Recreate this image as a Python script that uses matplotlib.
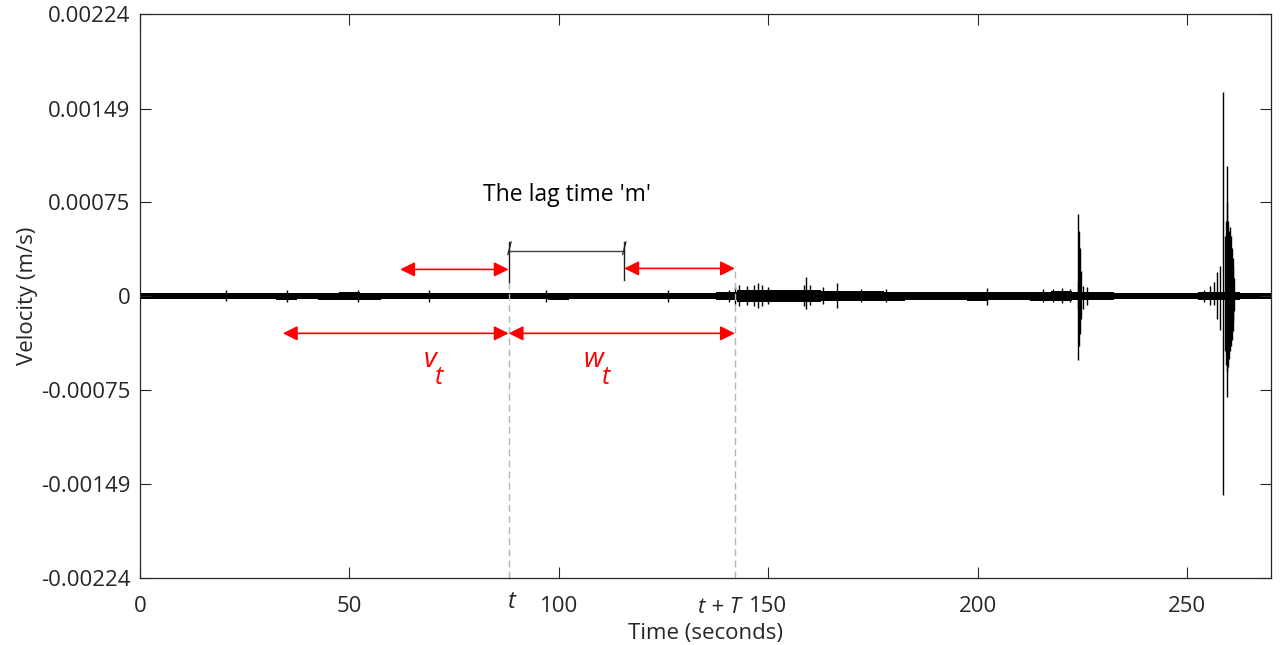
import numpy as np
import matplotlib.pyplot as plt
from matplotlib.transforms import blended_transform_factory

plt.rcParams['font.family'] = ['Open Sans', 'DejaVu Sans']

# background noise half-amplitude (1e-5 m/s), one value every 5 s
noise_t = np.arange(0, 275, 5)
noise_amp = [2.4, 2.4, 2.4, 2.5, 2.6, 2.6, 2.7, 2.8, 2.7, 2.8,
             2.9, 2.8, 2.6, 2.6, 2.6, 2.7, 2.6, 2.6, 2.6, 2.7,
             2.8, 2.7, 2.6, 2.7, 2.6, 2.6, 2.6, 2.7, 3.0, 5.0,
             4.6, 4.6, 4.6, 4.2, 4.0, 3.8, 3.6, 3.4, 3.2, 3.2,
             3.6, 3.0, 2.9, 3.6, 4.0, 3.4, 2.9, 2.7, 2.6, 2.6,
             2.6, 3.0, 3.4, 2.7, 2.7]

# individual spikes: time (s), peak up, peak down (1e-5 m/s)
spike_t = [20.5, 35, 52, 69, 97, 126, 140.5,
           142, 143, 145, 146.5, 147.5, 148.5, 150,
           158.5, 159, 160, 163, 166.3, 172, 178, 202.3,
           215.5, 218, 220, 222, 223.8, 224.0, 224.2, 224.4, 224.6, 225, 226,
           254, 255.5, 256.5, 257.2, 257.7, 258.6,
           258.9, 259.2, 259.4, 259.6, 259.8, 260.0, 260.2, 260.4, 260.6, 260.8, 261.0, 261.2]
spike_up = [4.5, 4.5, 5, 5, 4.5, 4.5, 5,
            7, 9, 8, 9, 10.5, 9, 7,
            9, 15.5, 9, 7, 10.5, 6, 6, 6.5,
            6, 5.5, 6.5, 6, 12, 65, 52, 38, 20, 8, 7,
            5, 8, 11, 19, 24, 162,
            48, 60, 75, 103, 60, 52, 55, 48, 38, 30, 22, 14]
spike_dn = [4, 4.5, 4.5, 5, 4.5, 4.5, 5,
            6, 8, 7, 8, 9.5, 8, 6,
            8, 10.5, 7, 6, 9.5, 5, 5, 7,
            5, 5, 5.5, 5, 10, 51, 40, 30, 18, 10, 7,
            5, 7, 7, 18, 27, 158,
            44, 55, 60, 80, 56, 50, 44, 40, 35, 28, 20, 12]

fig = plt.figure(figsize=(12.8, 6.45), dpi=100)
ax = fig.add_axes([0.1094, 0.1039, 0.8836, 0.8741])

scale = 1e-5
amp = np.array(noise_amp) * scale
ax.fill_between(noise_t, -amp, amp, step='mid', color='black', lw=0)
ax.vlines(spike_t, -np.array(spike_dn) * scale, np.array(spike_up) * scale,
          color='black', lw=1.0)

# dashed markers at t and t + T
t0, t1 = 88, 142
ax.plot([t0, t0], [-0.00224, 0.000114], ls=(0, (5, 3)), color='#b5b5b5', lw=1)
ax.plot([t1, t1], [-0.00224, 0.00024], ls=(0, (5, 3)), color='#b5b5b5', lw=1)

# red double arrows
red_arrow = dict(arrowstyle='<|-|>', color='red', lw=1.2, mutation_scale=22,
                 shrinkA=0, shrinkB=0)
ax.annotate('', xy=(62.1, 0.000212), xytext=(t0, 0.000212), arrowprops=red_arrow)
ax.annotate('', xy=(115.6, 0.00022), xytext=(t1, 0.00022), arrowprops=red_arrow)
ax.annotate('', xy=(34.1, -0.000296), xytext=(t0, -0.000296), arrowprops=red_arrow)
ax.annotate('', xy=(t0, -0.000296), xytext=(t1, -0.000296), arrowprops=red_arrow)

# lag bracket
bx0, bx1, by = 88.2, 115.6, 0.00036
ax.plot([bx0, bx1], [by, by], color='#404040', lw=1)
ax.plot([bx0, bx0], [0.000114, 0.00043], color='#202020', lw=1)
ax.plot([bx1, bx1], [0.000127, 0.00043], color='#202020', lw=1)
for bx in (bx0, bx1):
    ax.plot([bx - 0.4, bx + 0.4], [0.00033, 0.00043], color='#202020', lw=0.9)
ax.text(102, 0.00080, "The lag time 'm'", ha='center', va='center', fontsize=16.5, color='black')

ax.text(69.2, -0.000505, 'v', color='red', style='italic', fontsize=20, ha='center', va='center')
ax.text(71.4, -0.000645, 't', color='red', style='italic', fontsize=18, ha='center', va='center')
ax.text(108.2, -0.000505, 'w', color='red', style='italic', fontsize=20, ha='center', va='center')
ax.text(111.2, -0.000645, 't', color='red', style='italic', fontsize=18, ha='center', va='center')

ax.set_xlim(0, 270)
ax.set_ylim(-0.00224, 0.00224)
yticks = [-0.00224, -0.00149, -0.00075, 0, 0.00075, 0.00149, 0.00224]
ylabels = ['-0.00224', '-0.00149', '-0.00075', '0', '0.00075', '0.00149', '0.00224']
ax.set_yticks(yticks)
ax.set_yticklabels(ylabels)
ax.set_xticks([0, 50, 100, 150, 200, 250])
ax.tick_params(direction='in', length=8, width=0.8, top=True, right=True,
               labelsize=16, colors='#262626', pad=7)
ax.tick_params(axis='x', pad=13)
for s in ax.spines.values():
    s.set_color('#262626')
    s.set_linewidth(0.9)

trans = blended_transform_factory(ax.transData, ax.transAxes)
ax.text(88.7, -0.022, 't', transform=trans, style='italic', fontsize=17,
        ha='center', va='top', color='#262626')
ax.text(143.3, -0.034, 't + T', transform=trans, style='italic', fontsize=16,
        ha='right', va='top', color='#262626')

ax.set_xlabel('Time (seconds)', fontsize=16, color='#262626', labelpad=4)
ax.set_ylabel('Velocity (m/s)', fontsize=16, color='#262626', labelpad=2)

fig.savefig('out.png', dpi=100)
